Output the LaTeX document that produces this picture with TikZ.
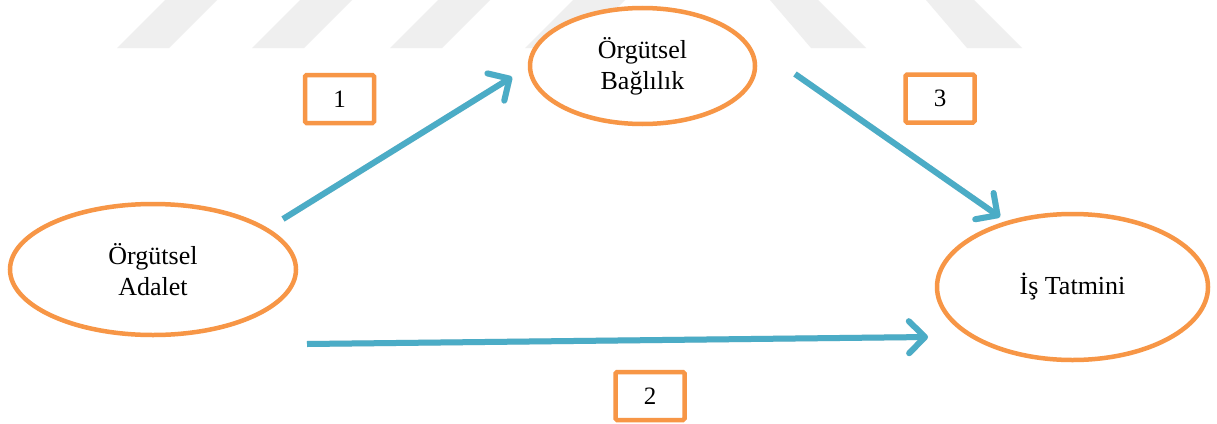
\documentclass[tikz,border=0pt]{standalone}
\usepackage{fontspec}
\setmainfont{Liberation Serif}
\usetikzlibrary{shapes.geometric,arrows.meta}
\definecolor{accentorange}{HTML}{F79646}
\definecolor{accentblue}{HTML}{4BACC6}
\definecolor{stripegray}{HTML}{EFEFEF}
\tikzset{
  concept/.style={ellipse, draw=accentorange, line width=4.5pt, fill=white,
    inner sep=0pt, align=center, font=\fontsize{26}{31}\selectfont},
  numbox/.style={draw=accentorange, line width=4.5pt, rounded corners=1.5pt,
    fill=white, minimum width=69pt, minimum height=48pt, inner sep=0pt,
    font=\fontsize{25}{30}\selectfont},
  link/.style={draw=accentblue, line width=6pt,
    -{Straight Barb[length=16pt,width=32pt,round]}},
  linkshadow/.style={draw=black!30, line width=6pt, opacity=0.35,
    -{Straight Barb[length=16pt,width=32pt,round]}},
  stripe/.style={fill=stripegray, draw=none}
}
\begin{document}
\begin{tikzpicture}[x=1pt,y=-1pt]
  % canvas
  \fill[white] (0,0) rectangle (1217,423);
  \useasboundingbox (0,0) rectangle (1217,423);

  % faint striped band along the top edge
  \foreach \b in {117,252,390,525}
    \fill[stripe] (\b,48) -- (\b+52,48) -- (\b+100,0) -- (\b+48,0) -- cycle;
  \foreach \b in {811,967}
    \fill[stripe] (\b,48) -- (\b+55,48) -- (\b+7,0) -- (\b-41,0) -- cycle;

  % concepts
  \node[concept, minimum width=286pt, minimum height=131pt] (adalet)
    at (153,269.5) {Örgütsel\\Adalet};
  \node[concept, minimum width=225pt, minimum height=116pt] (baglilik)
    at (642.5,66) {Örgütsel\\Bağlılık};
  \node[concept, minimum width=271pt, minimum height=146pt] (tatmin)
    at (1072.5,287) {İş Tatmini};

  % relationship numbers
  \node[numbox] (n1) at (339.5,99) {1};
  \node[numbox] (n2) at (650,396) {2};
  \node[numbox] (n3) at (940,98.5) {3};

  % arrow end points
  \coordinate (a1s) at (283,219);
  \coordinate (a1e) at (512,77);
  \coordinate (a2s) at (307,344);
  \coordinate (a2e) at (928,337);
  \coordinate (a3s) at (795,74);
  \coordinate (a3e) at (1000,217);

  % soft shadows under the arrows
  \begin{scope}[shift={(2,3)}]
    \draw[linkshadow] (a1s) -- (a1e);
    \draw[linkshadow] (a2s) -- (a2e);
    \draw[linkshadow] (a3s) -- (a3e);
  \end{scope}

  % arrows
  \draw[link] (a1s) -- (a1e);
  \draw[link] (a2s) -- (a2e);
  \draw[link] (a3s) -- (a3e);
\end{tikzpicture}
\end{document}
